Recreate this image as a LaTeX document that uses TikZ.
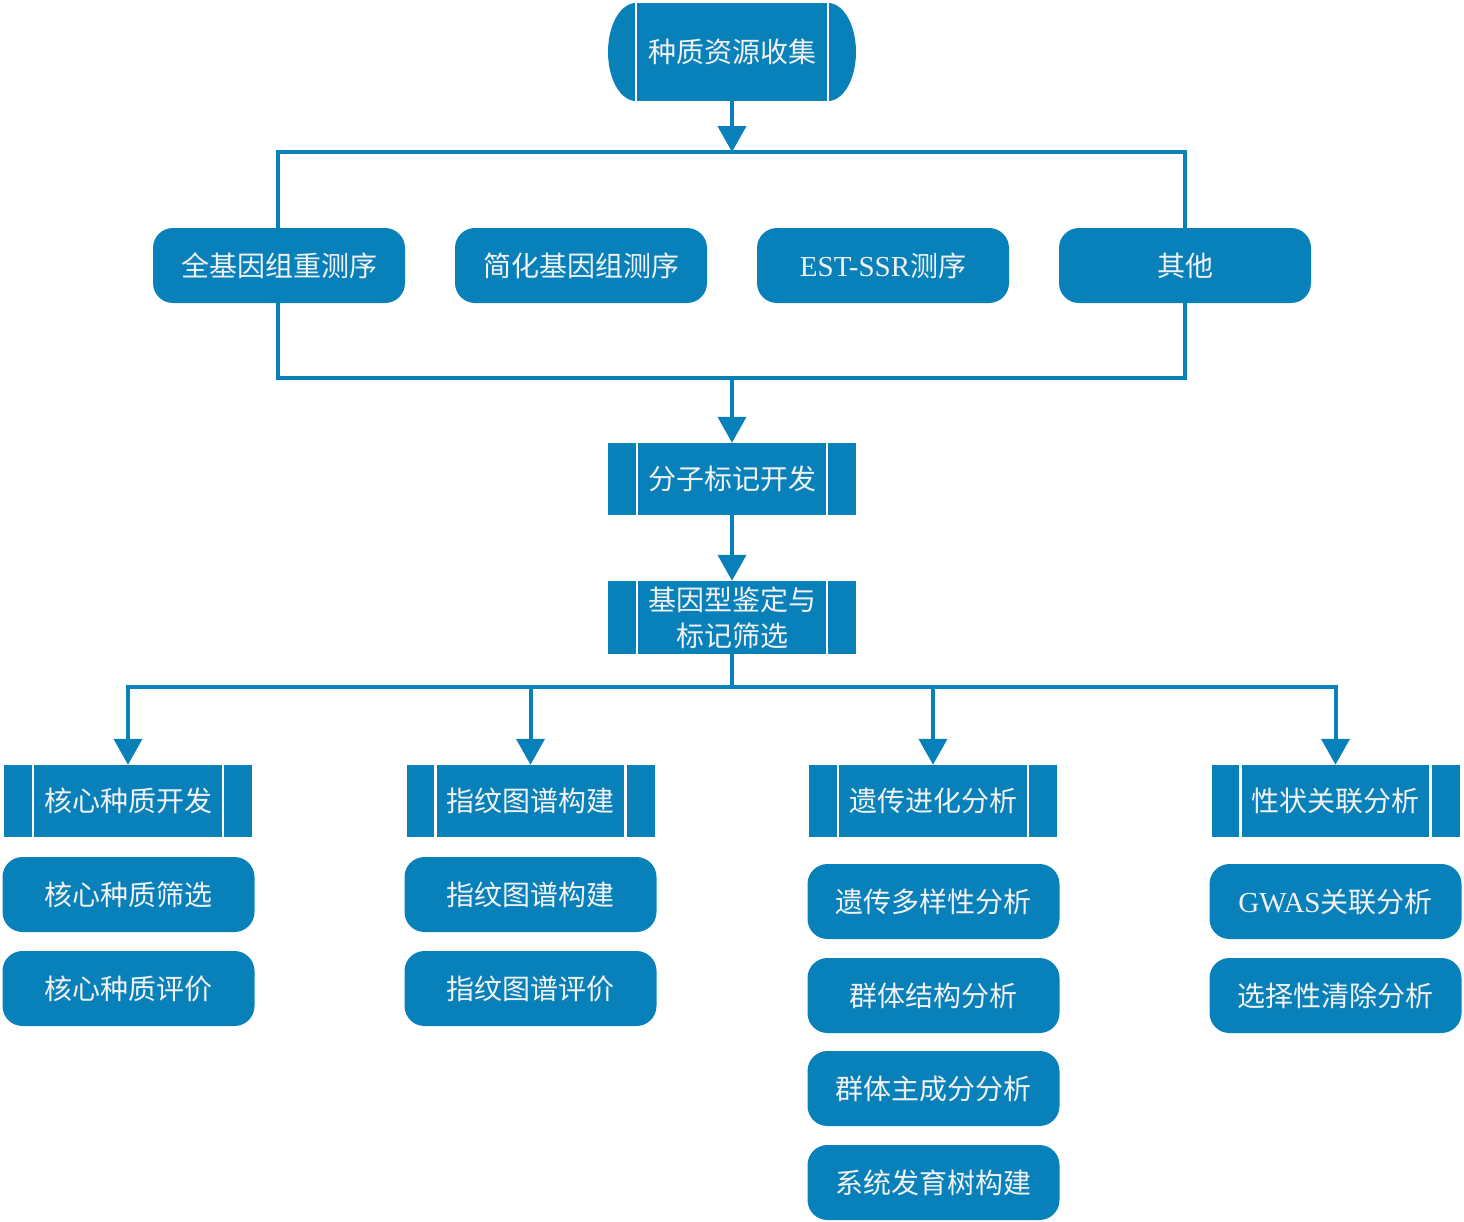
\documentclass[tikz,border=0pt]{standalone}
\usepackage{fontspec}
\newfontfamily\cjk{Noto Sans CJK SC}
\newfontfamily\lat{Liberation Serif}
\usetikzlibrary{arrows.meta}
\definecolor{flowblue}{HTML}{0881BB}
\definecolor{flowtext}{HTML}{F2F2F2}
\newcommand\westtext[1]{{\lat\fontsize{29}{36}\selectfont #1}}
\tikzset{
  base/.style={fill=flowblue, text=flowtext, font=\cjk\fontsize{28}{36}\selectfont,
    inner sep=0pt, align=center},
  soft/.style={base, rounded corners=20pt, minimum width=252pt, minimum height=75pt},
  proc/.style={base, minimum width=248pt, minimum height=72pt,
    path picture={
      \draw[white, line width=2.5pt]
        ([xshift=29pt]path picture bounding box.north west) --
        ([xshift=29pt]path picture bounding box.south west);
      \draw[white, line width=2.5pt]
        ([xshift=-29pt]path picture bounding box.north east) --
        ([xshift=-29pt]path picture bounding box.south east);
    }},
  link/.style={draw=flowblue, line width=4pt},
  flow/.style={link, -{Triangle[width=28pt,length=26pt]}}
}
\begin{document}
\begin{tikzpicture}[x=1pt,y=-1pt]
\useasboundingbox (0,0) rectangle (1464,1221);

% start
\fill[flowblue] (636,52) ellipse [x radius=28, y radius=49];
\fill[flowblue] (828,52) ellipse [x radius=28, y radius=49];
\node[base, minimum width=192pt, minimum height=98pt] (start) at (732,52) {种质资源收集};
\draw[white, line width=2.5pt] (start.north west) -- (start.south west);
\draw[white, line width=2.5pt] (start.north east) -- (start.south east);

% sequencing
\coordinate (fnw) at (278,152);
\coordinate (fse) at (1185,378);
\coordinate (ftop) at (732,152);
\coordinate (fbot) at (732,378);
\draw[link] (fnw) rectangle (fse);
\draw[flow] (start.south) -- (ftop);

\node[soft] (wgs) at (279,265.5) {全基因组重测序};
\node[soft] (rrs) at (581,265.5) {简化基因组测序};
\node[soft] (est) at (883,265.5) {\westtext{EST-SSR}测序};
\node[soft] (oth) at (1185,265.5) {其他};

% markers
\node[proc] (mark) at (732,479) {分子标记开发};
\node[proc, minimum height=73pt] (geno) at (732,617.5) {基因型鉴定与\\标记筛选};
\draw[flow] (fbot) -- (mark.north);
\draw[flow] (mark.south) -- (geno.north);

% applications
\node[proc] (core) at (128,801) {核心种质开发};
\node[proc] (fp) at (530.5,801) {指纹图谱构建};
\node[proc] (evo) at (933,801) {遗传进化分析};
\node[proc] (trait) at (1335.5,801) {性状关联分析};

\coordinate (hub) at (732,687);
\coordinate (h2) at (530.5,687);
\coordinate (h3) at (933,687);
\draw[link] (geno.south) -- (hub);
\draw[flow] (hub) -| (core.north);
\draw[flow] (hub) -| (trait.north);
\draw[flow] (h2) -- (fp.north);
\draw[flow] (h3) -- (evo.north);

\node[soft] (core1) at (128.5,894.5) {核心种质筛选};
\node[soft] (core2) at (128.5,988.5) {核心种质评价};
\node[soft] (fp1) at (530.5,894.5) {指纹图谱构建};
\node[soft] (fp2) at (530.5,988.5) {指纹图谱评价};
\node[soft] (evo1) at (933.5,901.5) {遗传多样性分析};
\node[soft] (evo2) at (933.5,995.5) {群体结构分析};
\node[soft] (evo3) at (933.5,1088.5) {群体主成分分析};
\node[soft] (evo4) at (933.5,1182.5) {系统发育树构建};
\node[soft] (trait1) at (1335.5,901.5) {\westtext{GWAS}关联分析};
\node[soft] (trait2) at (1335.5,995.5) {选择性清除分析};
\end{tikzpicture}
\end{document}
